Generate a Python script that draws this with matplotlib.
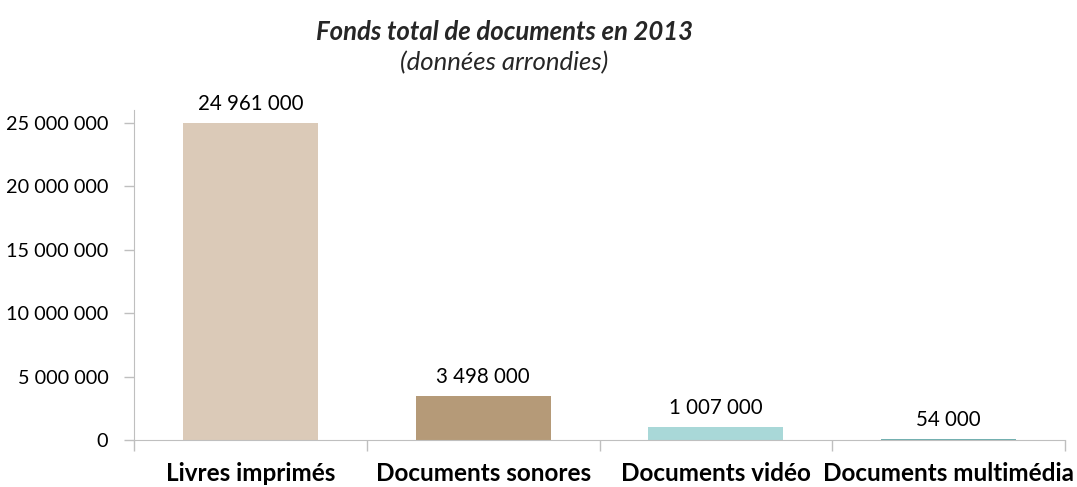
import matplotlib
matplotlib.use("Agg")
import matplotlib.pyplot as plt
from matplotlib.ticker import FuncFormatter

categories = ["Livres imprimés", "Documents sonores", "Documents vidéo", "Documents multimédia"]
values = [24961000, 3498000, 1007000, 54000]
colors = ["#dbcab8", "#b59a78", "#a9d8d8", "#70b0b0"]
yticks = [0, 5000000, 10000000, 15000000, 20000000, 25000000]

plt.rcParams['font.family'] = ['Lato', 'DejaVu Sans']

def fmt(v):
    return f"{int(v):,}".replace(",", " ")

fig = plt.figure(figsize=(10.77, 4.87), dpi=100)
ax = fig.add_axes([134/1077, 1-440/487, (1065-134)/1077, (440-110)/487])
x = list(range(len(categories)))
ax.bar(x, values, width=0.58, color=colors)
for xi, v in zip(x, values):
    ax.text(xi, v + 700000, fmt(v), ha='center', va='bottom', fontsize=14.8, color='#000000')

ax.set_xlim(-0.5, len(categories)-0.5)
ax.set_ylim(0, 26000000)
ax.set_yticks(yticks)
ax.yaxis.set_major_formatter(FuncFormatter(lambda v, p: fmt(v)))
ax.set_xticks([i-0.5 for i in range(len(categories)+1)])
ax.set_xticklabels([])
ax.set_xticks(x, minor=True)
ax.set_xticklabels(categories, minor=True, fontsize=17.5, fontweight='bold')
ax.tick_params(axis='x', which='minor', length=0, pad=16)
ax.tick_params(axis='x', which='major', length=8, color='#bfbfbf', width=1)
ax.tick_params(axis='y', length=7, color='#bfbfbf', width=1, labelsize=14.3, pad=11.5)
for s in ['top', 'right']:
    ax.spines[s].set_visible(False)
for s in ['left', 'bottom']:
    ax.spines[s].set_color('#bfbfbf')

fig.text(504/1077, 1-32/487, "Fonds total de documents en 2013", ha='center', va='center',
         fontsize=18.5, fontweight='bold', style='italic', color='#262626')
fig.text(504/1077, 1-63/487, "(données arrondies)", ha='center', va='center',
         fontsize=18.5, style='italic', color='#262626')

fig.savefig("out.png", dpi=100)
